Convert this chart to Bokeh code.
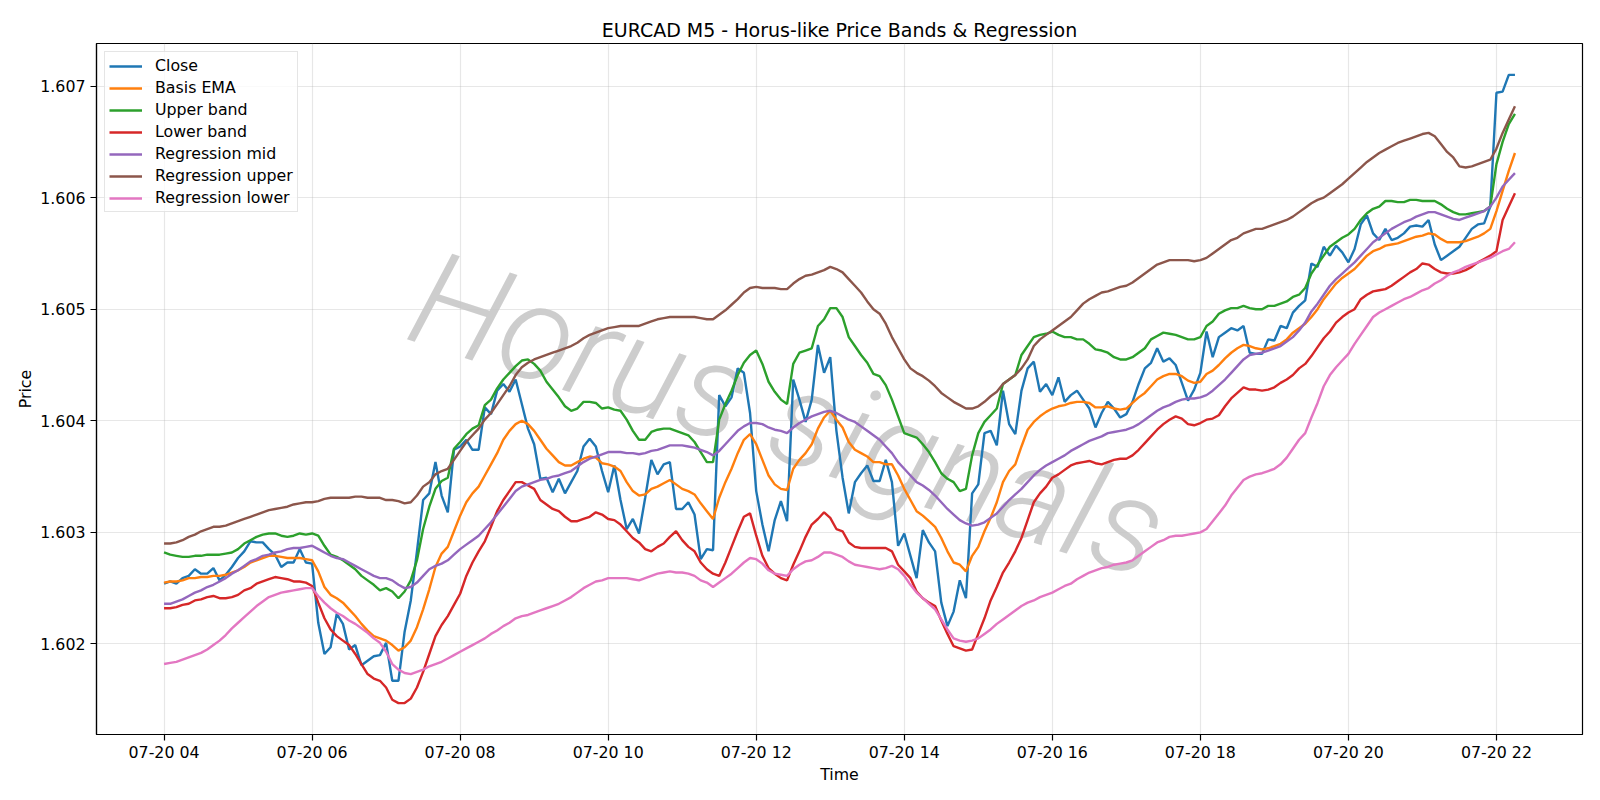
import math
import pandas as pd
from bokeh.plotting import figure
from bokeh.models import Range1d, FixedTicker, DatetimeTickFormatter, PrintfTickFormatter, Label
from bokeh.embed import file_html
from bokeh.resources import INLINE

# 5-minute bars, EURCAD, 20 July 04:00 - 22:15
times = pd.date_range("2025-07-20 04:00", periods=220, freq="5min")

close = [
    1.60254, 1.60256, 1.60254, 1.60259, 1.60261, 1.60267, 1.60263, 1.60263, 1.60268, 1.60257,
    1.60262, 1.60269, 1.60277, 1.60283, 1.60292, 1.60291, 1.60291, 1.60285, 1.60280, 1.60269,
    1.60273, 1.60273, 1.60285, 1.60273, 1.60272, 1.60219, 1.60191, 1.60197, 1.60227, 1.60218,
    1.60195, 1.60199, 1.60181, 1.60185, 1.60189, 1.60190, 1.60201, 1.60167, 1.60167, 1.60211,
    1.60239, 1.60283, 1.60329, 1.60335, 1.60363, 1.60333, 1.60318, 1.60374, 1.60377, 1.60383,
    1.60374, 1.60374, 1.60412, 1.60406, 1.60427, 1.60433, 1.60426, 1.60437, 1.60415, 1.60393,
    1.60379, 1.60348, 1.60349, 1.60336, 1.60348, 1.60335, 1.60345, 1.60355, 1.60377, 1.60384,
    1.60377, 1.60355, 1.60336, 1.60360, 1.60329, 1.60303, 1.60312, 1.60299, 1.60331, 1.60365,
    1.60352, 1.60361, 1.60363, 1.60321, 1.60321, 1.60327, 1.60316, 1.60276, 1.60285, 1.60284,
    1.60423, 1.60413, 1.60421, 1.60447, 1.60443, 1.60407, 1.60337, 1.60307, 1.60283, 1.60311,
    1.60328, 1.60310, 1.60437, 1.60419, 1.60399, 1.60419, 1.60468, 1.60443, 1.60457, 1.60391,
    1.60349, 1.60317, 1.60345, 1.60353, 1.60360, 1.60346, 1.60346, 1.60365, 1.60345, 1.60288,
    1.60299, 1.60279, 1.60259, 1.60302, 1.60291, 1.60283, 1.60237, 1.60216, 1.60229, 1.60257,
    1.60241, 1.60335, 1.60343, 1.60389, 1.60391, 1.60378, 1.60427, 1.60397, 1.60388, 1.60427,
    1.60447, 1.60453, 1.60426, 1.60433, 1.60423, 1.60439, 1.60417, 1.60423, 1.60427, 1.60419,
    1.60411, 1.60394, 1.60407, 1.60417, 1.60411, 1.60403, 1.60406, 1.60417, 1.60433, 1.60447,
    1.60452, 1.60465, 1.60453, 1.60456, 1.60450, 1.60434, 1.60418, 1.60428, 1.60443, 1.60480,
    1.60457, 1.60475, 1.60479, 1.60483, 1.60481, 1.60485, 1.60461, 1.60460, 1.60460, 1.60473,
    1.60472, 1.60485, 1.60483, 1.60497, 1.60503, 1.60508, 1.60541, 1.60538, 1.60556, 1.60548,
    1.60557, 1.60551, 1.60542, 1.60554, 1.60576, 1.60584, 1.60568, 1.60562, 1.60572, 1.60562,
    1.60564, 1.60568, 1.60574, 1.60575, 1.60574, 1.60580, 1.60558, 1.60544, 1.60548, 1.60552,
    1.60556, 1.60564, 1.60572, 1.60576, 1.60577, 1.60592, 1.60694, 1.60695, 1.60710, 1.60710,
]

basis_ema = [
    1.60255, 1.60256, 1.60256, 1.60257, 1.60259, 1.60259, 1.60260, 1.60260, 1.60261, 1.60261,
    1.60262, 1.60264, 1.60266, 1.60269, 1.60273, 1.60275, 1.60277, 1.60279, 1.60279, 1.60278,
    1.60277, 1.60277, 1.60277, 1.60276, 1.60275, 1.60265, 1.60251, 1.60244, 1.60241, 1.60237,
    1.60231, 1.60225, 1.60218, 1.60212, 1.60207, 1.60205, 1.60203, 1.60199, 1.60194, 1.60197,
    1.60203, 1.60215, 1.60231, 1.60249, 1.60269, 1.60281, 1.60287, 1.60301, 1.60315, 1.60327,
    1.60335, 1.60341, 1.60351, 1.60361, 1.60371, 1.60383, 1.60391, 1.60397, 1.60400, 1.60397,
    1.60391, 1.60383, 1.60375, 1.60369, 1.60363, 1.60360, 1.60360, 1.60363, 1.60366, 1.60368,
    1.60367, 1.60362, 1.60361, 1.60359, 1.60355, 1.60345, 1.60337, 1.60333, 1.60334, 1.60339,
    1.60341, 1.60344, 1.60347, 1.60343, 1.60339, 1.60337, 1.60334, 1.60326, 1.60319, 1.60312,
    1.60331, 1.60345, 1.60357, 1.60371, 1.60383, 1.60388, 1.60379, 1.60365, 1.60351, 1.60343,
    1.60339, 1.60338, 1.60357, 1.60365, 1.60371, 1.60379, 1.60393, 1.60403, 1.60409, 1.60401,
    1.60394, 1.60381, 1.60374, 1.60371, 1.60368, 1.60363, 1.60363, 1.60361, 1.60361, 1.60351,
    1.60339, 1.60329, 1.60319, 1.60315, 1.60310, 1.60305, 1.60295, 1.60283, 1.60273, 1.60271,
    1.60265, 1.60279, 1.60287, 1.60301, 1.60313, 1.60327, 1.60345, 1.60355, 1.60361, 1.60377,
    1.60392, 1.60399, 1.60404, 1.60408, 1.60411, 1.60413, 1.60414, 1.60416, 1.60417, 1.60417,
    1.60416, 1.60412, 1.60412, 1.60413, 1.60411, 1.60410, 1.60411, 1.60416, 1.60421, 1.60425,
    1.60431, 1.60437, 1.60440, 1.60442, 1.60442, 1.60440, 1.60436, 1.60434, 1.60435, 1.60442,
    1.60445, 1.60450, 1.60456, 1.60461, 1.60465, 1.60468, 1.60467, 1.60465, 1.60464, 1.60465,
    1.60467, 1.60469, 1.60473, 1.60479, 1.60483, 1.60487, 1.60493, 1.60500, 1.60509, 1.60516,
    1.60523, 1.60528, 1.60532, 1.60536, 1.60542, 1.60548, 1.60552, 1.60554, 1.60557, 1.60558,
    1.60559, 1.60561, 1.60563, 1.60565, 1.60566, 1.60568, 1.60567, 1.60563, 1.60560, 1.60560,
    1.60560, 1.60561, 1.60563, 1.60565, 1.60568, 1.60572, 1.60588, 1.60606, 1.60624, 1.60640,
]

upper_band = [
    1.60282, 1.60280, 1.60279, 1.60278, 1.60278, 1.60279, 1.60279, 1.60280, 1.60280, 1.60280,
    1.60281, 1.60282, 1.60285, 1.60290, 1.60293, 1.60296, 1.60298, 1.60299, 1.60299, 1.60297,
    1.60296, 1.60297, 1.60299, 1.60298, 1.60299, 1.60297, 1.60288, 1.60280, 1.60278, 1.60275,
    1.60271, 1.60267, 1.60261, 1.60257, 1.60253, 1.60248, 1.60250, 1.60247, 1.60241, 1.60247,
    1.60257, 1.60275, 1.60303, 1.60323, 1.60339, 1.60346, 1.60349, 1.60375, 1.60381, 1.60388,
    1.60393, 1.60396, 1.60414, 1.60419, 1.60429, 1.60437, 1.60443, 1.60449, 1.60454, 1.60455,
    1.60451, 1.60445, 1.60435, 1.60428, 1.60421, 1.60413, 1.60409, 1.60411, 1.60417, 1.60417,
    1.60416, 1.60411, 1.60412, 1.60410, 1.60409, 1.60401, 1.60391, 1.60383, 1.60383, 1.60390,
    1.60392, 1.60393, 1.60393, 1.60391, 1.60389, 1.60387, 1.60381, 1.60372, 1.60363, 1.60363,
    1.60401, 1.60415, 1.60427, 1.60441, 1.60452, 1.60459, 1.60463, 1.60451, 1.60435, 1.60426,
    1.60419, 1.60415, 1.60451, 1.60461, 1.60463, 1.60465, 1.60485, 1.60491, 1.60501, 1.60501,
    1.60493, 1.60475, 1.60467, 1.60459, 1.60452, 1.60442, 1.60440, 1.60432, 1.60419, 1.60404,
    1.60389, 1.60387, 1.60385, 1.60379, 1.60372, 1.60363, 1.60353, 1.60348, 1.60345, 1.60337,
    1.60339, 1.60369, 1.60389, 1.60399, 1.60405, 1.60411, 1.60433, 1.60437, 1.60441, 1.60459,
    1.60467, 1.60475, 1.60477, 1.60478, 1.60480, 1.60477, 1.60475, 1.60475, 1.60473, 1.60473,
    1.60469, 1.60464, 1.60463, 1.60461, 1.60457, 1.60455, 1.60455, 1.60457, 1.60461, 1.60465,
    1.60473, 1.60476, 1.60479, 1.60478, 1.60477, 1.60475, 1.60473, 1.60473, 1.60475, 1.60485,
    1.60489, 1.60496, 1.60499, 1.60501, 1.60501, 1.60503, 1.60501, 1.60500, 1.60500, 1.60503,
    1.60503, 1.60505, 1.60507, 1.60511, 1.60513, 1.60519, 1.60532, 1.60540, 1.60548, 1.60556,
    1.60560, 1.60564, 1.60567, 1.60572, 1.60580, 1.60586, 1.60590, 1.60592, 1.60597, 1.60597,
    1.60596, 1.60596, 1.60598, 1.60598, 1.60597, 1.60597, 1.60597, 1.60594, 1.60590, 1.60587,
    1.60585, 1.60585, 1.60586, 1.60587, 1.60588, 1.60592, 1.60630, 1.60650, 1.60666, 1.60675,
]

lower_band = [
    1.60232, 1.60232, 1.60233, 1.60235, 1.60236, 1.60239, 1.60240, 1.60242, 1.60243, 1.60241,
    1.60241, 1.60242, 1.60244, 1.60248, 1.60250, 1.60254, 1.60256, 1.60258, 1.60260, 1.60259,
    1.60258, 1.60256, 1.60256, 1.60255, 1.60252, 1.60237, 1.60223, 1.60213, 1.60207, 1.60203,
    1.60199, 1.60191, 1.60182, 1.60173, 1.60169, 1.60167, 1.60161, 1.60150, 1.60147, 1.60147,
    1.60151, 1.60161, 1.60175, 1.60191, 1.60207, 1.60217, 1.60225, 1.60235, 1.60245, 1.60261,
    1.60273, 1.60283, 1.60292, 1.60305, 1.60319, 1.60329, 1.60337, 1.60345, 1.60345, 1.60342,
    1.60339, 1.60329, 1.60325, 1.60321, 1.60319, 1.60314, 1.60310, 1.60310, 1.60312, 1.60314,
    1.60318, 1.60316, 1.60312, 1.60311, 1.60307, 1.60301, 1.60295, 1.60291, 1.60285, 1.60283,
    1.60287, 1.60290, 1.60296, 1.60301, 1.60293, 1.60287, 1.60283, 1.60273, 1.60267, 1.60263,
    1.60261, 1.60273, 1.60287, 1.60301, 1.60314, 1.60317, 1.60297, 1.60279, 1.60268, 1.60263,
    1.60259, 1.60257, 1.60271, 1.60283, 1.60296, 1.60307, 1.60312, 1.60318, 1.60313, 1.60303,
    1.60301, 1.60291, 1.60287, 1.60286, 1.60286, 1.60286, 1.60286, 1.60286, 1.60283, 1.60271,
    1.60265, 1.60259, 1.60247, 1.60241, 1.60237, 1.60234, 1.60221, 1.60209, 1.60198, 1.60196,
    1.60194, 1.60195, 1.60209, 1.60223, 1.60239, 1.60251, 1.60264, 1.60273, 1.60283, 1.60295,
    1.60311, 1.60327, 1.60335, 1.60341, 1.60349, 1.60352, 1.60356, 1.60360, 1.60362, 1.60363,
    1.60364, 1.60362, 1.60361, 1.60363, 1.60365, 1.60366, 1.60366, 1.60369, 1.60374, 1.60380,
    1.60386, 1.60392, 1.60397, 1.60401, 1.60404, 1.60402, 1.60397, 1.60396, 1.60398, 1.60401,
    1.60402, 1.60405, 1.60413, 1.60420, 1.60425, 1.60430, 1.60428, 1.60428, 1.60427, 1.60428,
    1.60430, 1.60434, 1.60437, 1.60441, 1.60447, 1.60451, 1.60458, 1.60466, 1.60474, 1.60480,
    1.60488, 1.60493, 1.60497, 1.60500, 1.60509, 1.60513, 1.60516, 1.60517, 1.60518, 1.60521,
    1.60525, 1.60529, 1.60533, 1.60536, 1.60541, 1.60540, 1.60536, 1.60533, 1.60532, 1.60532,
    1.60533, 1.60535, 1.60538, 1.60542, 1.60545, 1.60548, 1.60552, 1.60580, 1.60592, 1.60604,
]

reg_mid = [
    1.60236, 1.60236, 1.60238, 1.60240, 1.60243, 1.60246, 1.60248, 1.60251, 1.60253, 1.60256,
    1.60259, 1.60263, 1.60266, 1.60270, 1.60274, 1.60276, 1.60279, 1.60280, 1.60282, 1.60283,
    1.60285, 1.60286, 1.60286, 1.60287, 1.60288, 1.60285, 1.60282, 1.60279, 1.60277, 1.60276,
    1.60273, 1.60270, 1.60267, 1.60264, 1.60261, 1.60259, 1.60259, 1.60257, 1.60253, 1.60250,
    1.60251, 1.60255, 1.60261, 1.60267, 1.60270, 1.60272, 1.60275, 1.60280, 1.60285, 1.60289,
    1.60293, 1.60297, 1.60303, 1.60309, 1.60316, 1.60323, 1.60330, 1.60337, 1.60341, 1.60343,
    1.60345, 1.60347, 1.60348, 1.60350, 1.60351, 1.60353, 1.60355, 1.60359, 1.60363, 1.60366,
    1.60368, 1.60370, 1.60372, 1.60372, 1.60372, 1.60371, 1.60371, 1.60370, 1.60371, 1.60373,
    1.60374, 1.60376, 1.60378, 1.60378, 1.60378, 1.60377, 1.60376, 1.60374, 1.60372, 1.60369,
    1.60373, 1.60379, 1.60385, 1.60391, 1.60395, 1.60398, 1.60398, 1.60397, 1.60394, 1.60392,
    1.60391, 1.60389, 1.60394, 1.60398, 1.60401, 1.60404, 1.60406, 1.60408, 1.60409, 1.60407,
    1.60404, 1.60401, 1.60399, 1.60395, 1.60391, 1.60387, 1.60383, 1.60377, 1.60371, 1.60363,
    1.60357, 1.60351, 1.60345, 1.60342, 1.60338, 1.60333, 1.60327, 1.60321, 1.60316, 1.60311,
    1.60308, 1.60306, 1.60307, 1.60309, 1.60313, 1.60317, 1.60323, 1.60329, 1.60334, 1.60339,
    1.60345, 1.60351, 1.60356, 1.60360, 1.60363, 1.60366, 1.60369, 1.60373, 1.60376, 1.60379,
    1.60382, 1.60384, 1.60386, 1.60389, 1.60390, 1.60391, 1.60392, 1.60394, 1.60397, 1.60401,
    1.60405, 1.60409, 1.60412, 1.60414, 1.60417, 1.60419, 1.60420, 1.60420, 1.60421, 1.60423,
    1.60427, 1.60432, 1.60437, 1.60443, 1.60449, 1.60455, 1.60459, 1.60460, 1.60461, 1.60463,
    1.60465, 1.60467, 1.60471, 1.60475, 1.60481, 1.60488, 1.60498, 1.60505, 1.60513, 1.60521,
    1.60527, 1.60532, 1.60537, 1.60542, 1.60548, 1.60554, 1.60560, 1.60564, 1.60568, 1.60572,
    1.60575, 1.60578, 1.60580, 1.60583, 1.60585, 1.60587, 1.60587, 1.60585, 1.60583, 1.60581,
    1.60580, 1.60582, 1.60584, 1.60586, 1.60588, 1.60592, 1.60600, 1.60610, 1.60616, 1.60622,
]

reg_upper = [
    1.60290, 1.60290, 1.60291, 1.60293, 1.60296, 1.60298, 1.60301, 1.60303, 1.60305, 1.60305,
    1.60306, 1.60308, 1.60310, 1.60312, 1.60314, 1.60316, 1.60318, 1.60320, 1.60321, 1.60322,
    1.60323, 1.60325, 1.60326, 1.60327, 1.60327, 1.60328, 1.60330, 1.60331, 1.60331, 1.60331,
    1.60331, 1.60332, 1.60332, 1.60331, 1.60331, 1.60331, 1.60329, 1.60329, 1.60328, 1.60326,
    1.60327, 1.60333, 1.60341, 1.60345, 1.60352, 1.60355, 1.60357, 1.60365, 1.60373, 1.60381,
    1.60387, 1.60393, 1.60401, 1.60407, 1.60415, 1.60423, 1.60431, 1.60441, 1.60448, 1.60452,
    1.60455, 1.60457, 1.60459, 1.60461, 1.60463, 1.60465, 1.60467, 1.60470, 1.60474, 1.60477,
    1.60479, 1.60481, 1.60483, 1.60484, 1.60485, 1.60485, 1.60485, 1.60485, 1.60487, 1.60489,
    1.60491, 1.60492, 1.60493, 1.60493, 1.60493, 1.60493, 1.60493, 1.60492, 1.60491, 1.60491,
    1.60495, 1.60499, 1.60504, 1.60509, 1.60515, 1.60519, 1.60520, 1.60519, 1.60519, 1.60519,
    1.60518, 1.60518, 1.60523, 1.60527, 1.60530, 1.60531, 1.60533, 1.60535, 1.60538, 1.60536,
    1.60533, 1.60527, 1.60521, 1.60515, 1.60507, 1.60500, 1.60496, 1.60487, 1.60475, 1.60465,
    1.60455, 1.60447, 1.60443, 1.60440, 1.60436, 1.60431, 1.60425, 1.60421, 1.60417, 1.60414,
    1.60411, 1.60411, 1.60413, 1.60417, 1.60422, 1.60426, 1.60433, 1.60437, 1.60441, 1.60447,
    1.60455, 1.60467, 1.60473, 1.60477, 1.60481, 1.60485, 1.60489, 1.60493, 1.60499, 1.60505,
    1.60509, 1.60512, 1.60515, 1.60516, 1.60518, 1.60520, 1.60521, 1.60524, 1.60528, 1.60532,
    1.60536, 1.60540, 1.60542, 1.60544, 1.60544, 1.60544, 1.60544, 1.60543, 1.60544, 1.60546,
    1.60550, 1.60554, 1.60558, 1.60562, 1.60564, 1.60568, 1.60570, 1.60572, 1.60572, 1.60574,
    1.60576, 1.60578, 1.60580, 1.60583, 1.60587, 1.60591, 1.60595, 1.60598, 1.60600, 1.60604,
    1.60608, 1.60612, 1.60617, 1.60622, 1.60627, 1.60632, 1.60636, 1.60640, 1.60643, 1.60646,
    1.60649, 1.60651, 1.60653, 1.60655, 1.60657, 1.60658, 1.60655, 1.60648, 1.60641, 1.60636,
    1.60628, 1.60627, 1.60628, 1.60630, 1.60632, 1.60634, 1.60644, 1.60658, 1.60670, 1.60682,
]

reg_lower = [
    1.60182, 1.60183, 1.60184, 1.60186, 1.60188, 1.60190, 1.60192, 1.60195, 1.60199, 1.60203,
    1.60208, 1.60214, 1.60219, 1.60224, 1.60229, 1.60234, 1.60238, 1.60242, 1.60244, 1.60246,
    1.60247, 1.60248, 1.60249, 1.60250, 1.60250, 1.60243, 1.60237, 1.60232, 1.60228, 1.60225,
    1.60221, 1.60218, 1.60214, 1.60210, 1.60205, 1.60201, 1.60193, 1.60182, 1.60177, 1.60174,
    1.60173, 1.60175, 1.60177, 1.60180, 1.60182, 1.60184, 1.60187, 1.60190, 1.60193, 1.60196,
    1.60199, 1.60202, 1.60205, 1.60209, 1.60212, 1.60216, 1.60219, 1.60223, 1.60225, 1.60226,
    1.60228, 1.60230, 1.60232, 1.60234, 1.60236, 1.60239, 1.60242, 1.60246, 1.60250, 1.60253,
    1.60256, 1.60257, 1.60259, 1.60259, 1.60259, 1.60259, 1.60258, 1.60257, 1.60259, 1.60261,
    1.60263, 1.60264, 1.60265, 1.60264, 1.60264, 1.60263, 1.60261, 1.60257, 1.60255, 1.60251,
    1.60255, 1.60259, 1.60263, 1.60268, 1.60273, 1.60277, 1.60276, 1.60272, 1.60266, 1.60263,
    1.60262, 1.60261, 1.60267, 1.60271, 1.60274, 1.60275, 1.60278, 1.60282, 1.60282, 1.60280,
    1.60278, 1.60274, 1.60271, 1.60270, 1.60269, 1.60268, 1.60267, 1.60268, 1.60270, 1.60267,
    1.60261, 1.60253, 1.60246, 1.60241, 1.60236, 1.60231, 1.60222, 1.60213, 1.60205, 1.60203,
    1.60202, 1.60203, 1.60205, 1.60209, 1.60213, 1.60218, 1.60222, 1.60226, 1.60230, 1.60234,
    1.60237, 1.60239, 1.60242, 1.60244, 1.60246, 1.60249, 1.60252, 1.60254, 1.60258, 1.60261,
    1.60264, 1.60266, 1.60268, 1.60269, 1.60271, 1.60272, 1.60273, 1.60275, 1.60279, 1.60283,
    1.60287, 1.60291, 1.60293, 1.60296, 1.60297, 1.60297, 1.60298, 1.60299, 1.60300, 1.60303,
    1.60310, 1.60317, 1.60324, 1.60333, 1.60340, 1.60347, 1.60350, 1.60352, 1.60353, 1.60355,
    1.60357, 1.60361, 1.60367, 1.60375, 1.60383, 1.60389, 1.60403, 1.60416, 1.60431, 1.60441,
    1.60448, 1.60454, 1.60460, 1.60469, 1.60477, 1.60485, 1.60493, 1.60497, 1.60500, 1.60503,
    1.60506, 1.60509, 1.60511, 1.60514, 1.60517, 1.60519, 1.60523, 1.60526, 1.60530, 1.60533,
    1.60535, 1.60538, 1.60540, 1.60542, 1.60544, 1.60546, 1.60549, 1.60552, 1.60554, 1.60560,
]

series = [
    ("Close", close, "#1f77b4"),
    ("Basis EMA", basis_ema, "#ff7f0e"),
    ("Upper band", upper_band, "#2ca02c"),
    ("Lower band", lower_band, "#d62728"),
    ("Regression mid", reg_mid, "#9467bd"),
    ("Regression upper", reg_upper, "#8c564b"),
    ("Regression lower", reg_lower, "#e377c2"),
]

tick_hours = [4, 6, 8, 10, 12, 14, 16, 18, 20, 22]
price_ticks = [1.602, 1.603, 1.604, 1.605, 1.606, 1.607]

# autoscale with 5% margins on both axes
t0, t1 = times[0], times[-1]
tpad = (t1 - t0) * 0.05
all_vals = [v for _, s, _ in series for v in s]
lo, hi = min(all_vals), max(all_vals)
ypad = (hi - lo) * 0.05

FONT = "DejaVu Sans"
FS = "15.8px"

p = figure(
    width=1600, height=800,
    x_axis_type="datetime",
    output_backend="svg", toolbar_location=None,
    x_range=Range1d((t0 - tpad).to_pydatetime(), (t1 + tpad).to_pydatetime()),
    y_range=Range1d(lo - ypad, hi + ypad),
    min_border_left=96, min_border_right=18, min_border_top=43, min_border_bottom=66,
    background_fill_color="white", border_fill_color="white",
)

p.title.text = "EURCAD M5 - Horus-like Price Bands & Regression"
p.title.align = "center"
p.title.text_font = FONT
p.title.text_font_size = "19px"
p.title.text_font_style = "normal"
p.title.text_color = "black"
p.title.standoff = 6

# watermark, drawn beneath the price lines
wm = Label(
    x=pd.Timestamp("2025-07-20 12:26").to_pydatetime(), y=1.60405,
    text="Horus signals", angle=math.radians(-18),
    text_font="Roboto Light, Roboto Thin, Lato Light, DejaVu Sans", text_font_size="134px",
    text_font_style="italic",
    text_color="#c4c4c4", text_alpha=0.85,
    text_align="center", text_baseline="middle",
    level="underlay",
)
p.add_layout(wm)

for name, vals, color in series:
    p.line(times, vals, line_color=color, line_width=2.4, legend_label=name)

# axes
p.xaxis.ticker = FixedTicker(ticks=[pd.Timestamp(f"2025-07-20 {h:02d}:00").value / 1e6 for h in tick_hours])
fmt = "%m-%d %H"
p.xaxis.formatter = DatetimeTickFormatter(
    minutes=fmt, hourmin=fmt, hours=fmt, days=fmt, months=fmt, years=fmt)
p.yaxis.ticker = FixedTicker(ticks=price_ticks)
p.yaxis.formatter = PrintfTickFormatter(format="%.3f")
p.xaxis.axis_label = "Time"
p.yaxis.axis_label = "Price"

for ax in (p.xaxis, p.yaxis):
    ax.axis_label_text_font = FONT
    ax.axis_label_text_font_size = FS
    ax.axis_label_text_font_style = "normal"
    ax.axis_label_text_color = "black"
    ax.major_label_text_font = FONT
    ax.major_label_text_font_size = FS
    ax.major_label_text_color = "black"
    ax.major_tick_out = 6
    ax.major_tick_in = 0
    ax.major_tick_line_color = "black"
    ax.major_tick_line_width = 1.2
    ax.minor_tick_line_color = None
    ax.axis_line_color = "black"
    ax.axis_line_width = 1.2
p.xaxis.major_label_standoff = 2
p.yaxis.major_label_standoff = 5
p.xaxis.axis_label_standoff = 0
p.yaxis.axis_label_standoff = 2

p.grid.grid_line_color = "#b0b0b0"
p.grid.grid_line_alpha = 0.3
p.grid.grid_line_width = 1.2

p.outline_line_color = "black"
p.outline_line_alpha = 1.0
p.outline_line_width = 1.2

# legend
lg = p.legend[0]
lg.location = "top_left"
lg.margin = 8
lg.padding = 4
lg.spacing = 3
lg.label_height = 14
lg.glyph_height = 14
lg.glyph_width = 33
lg.label_standoff = 13
lg.label_text_font = FONT
lg.label_text_font_size = FS
lg.label_text_color = "black"
lg.border_line_color = "#cccccc"
lg.border_line_width = 1.2
lg.background_fill_color = "white"
lg.background_fill_alpha = 0.8

open("out.html", "w").write(file_html(p, INLINE))
